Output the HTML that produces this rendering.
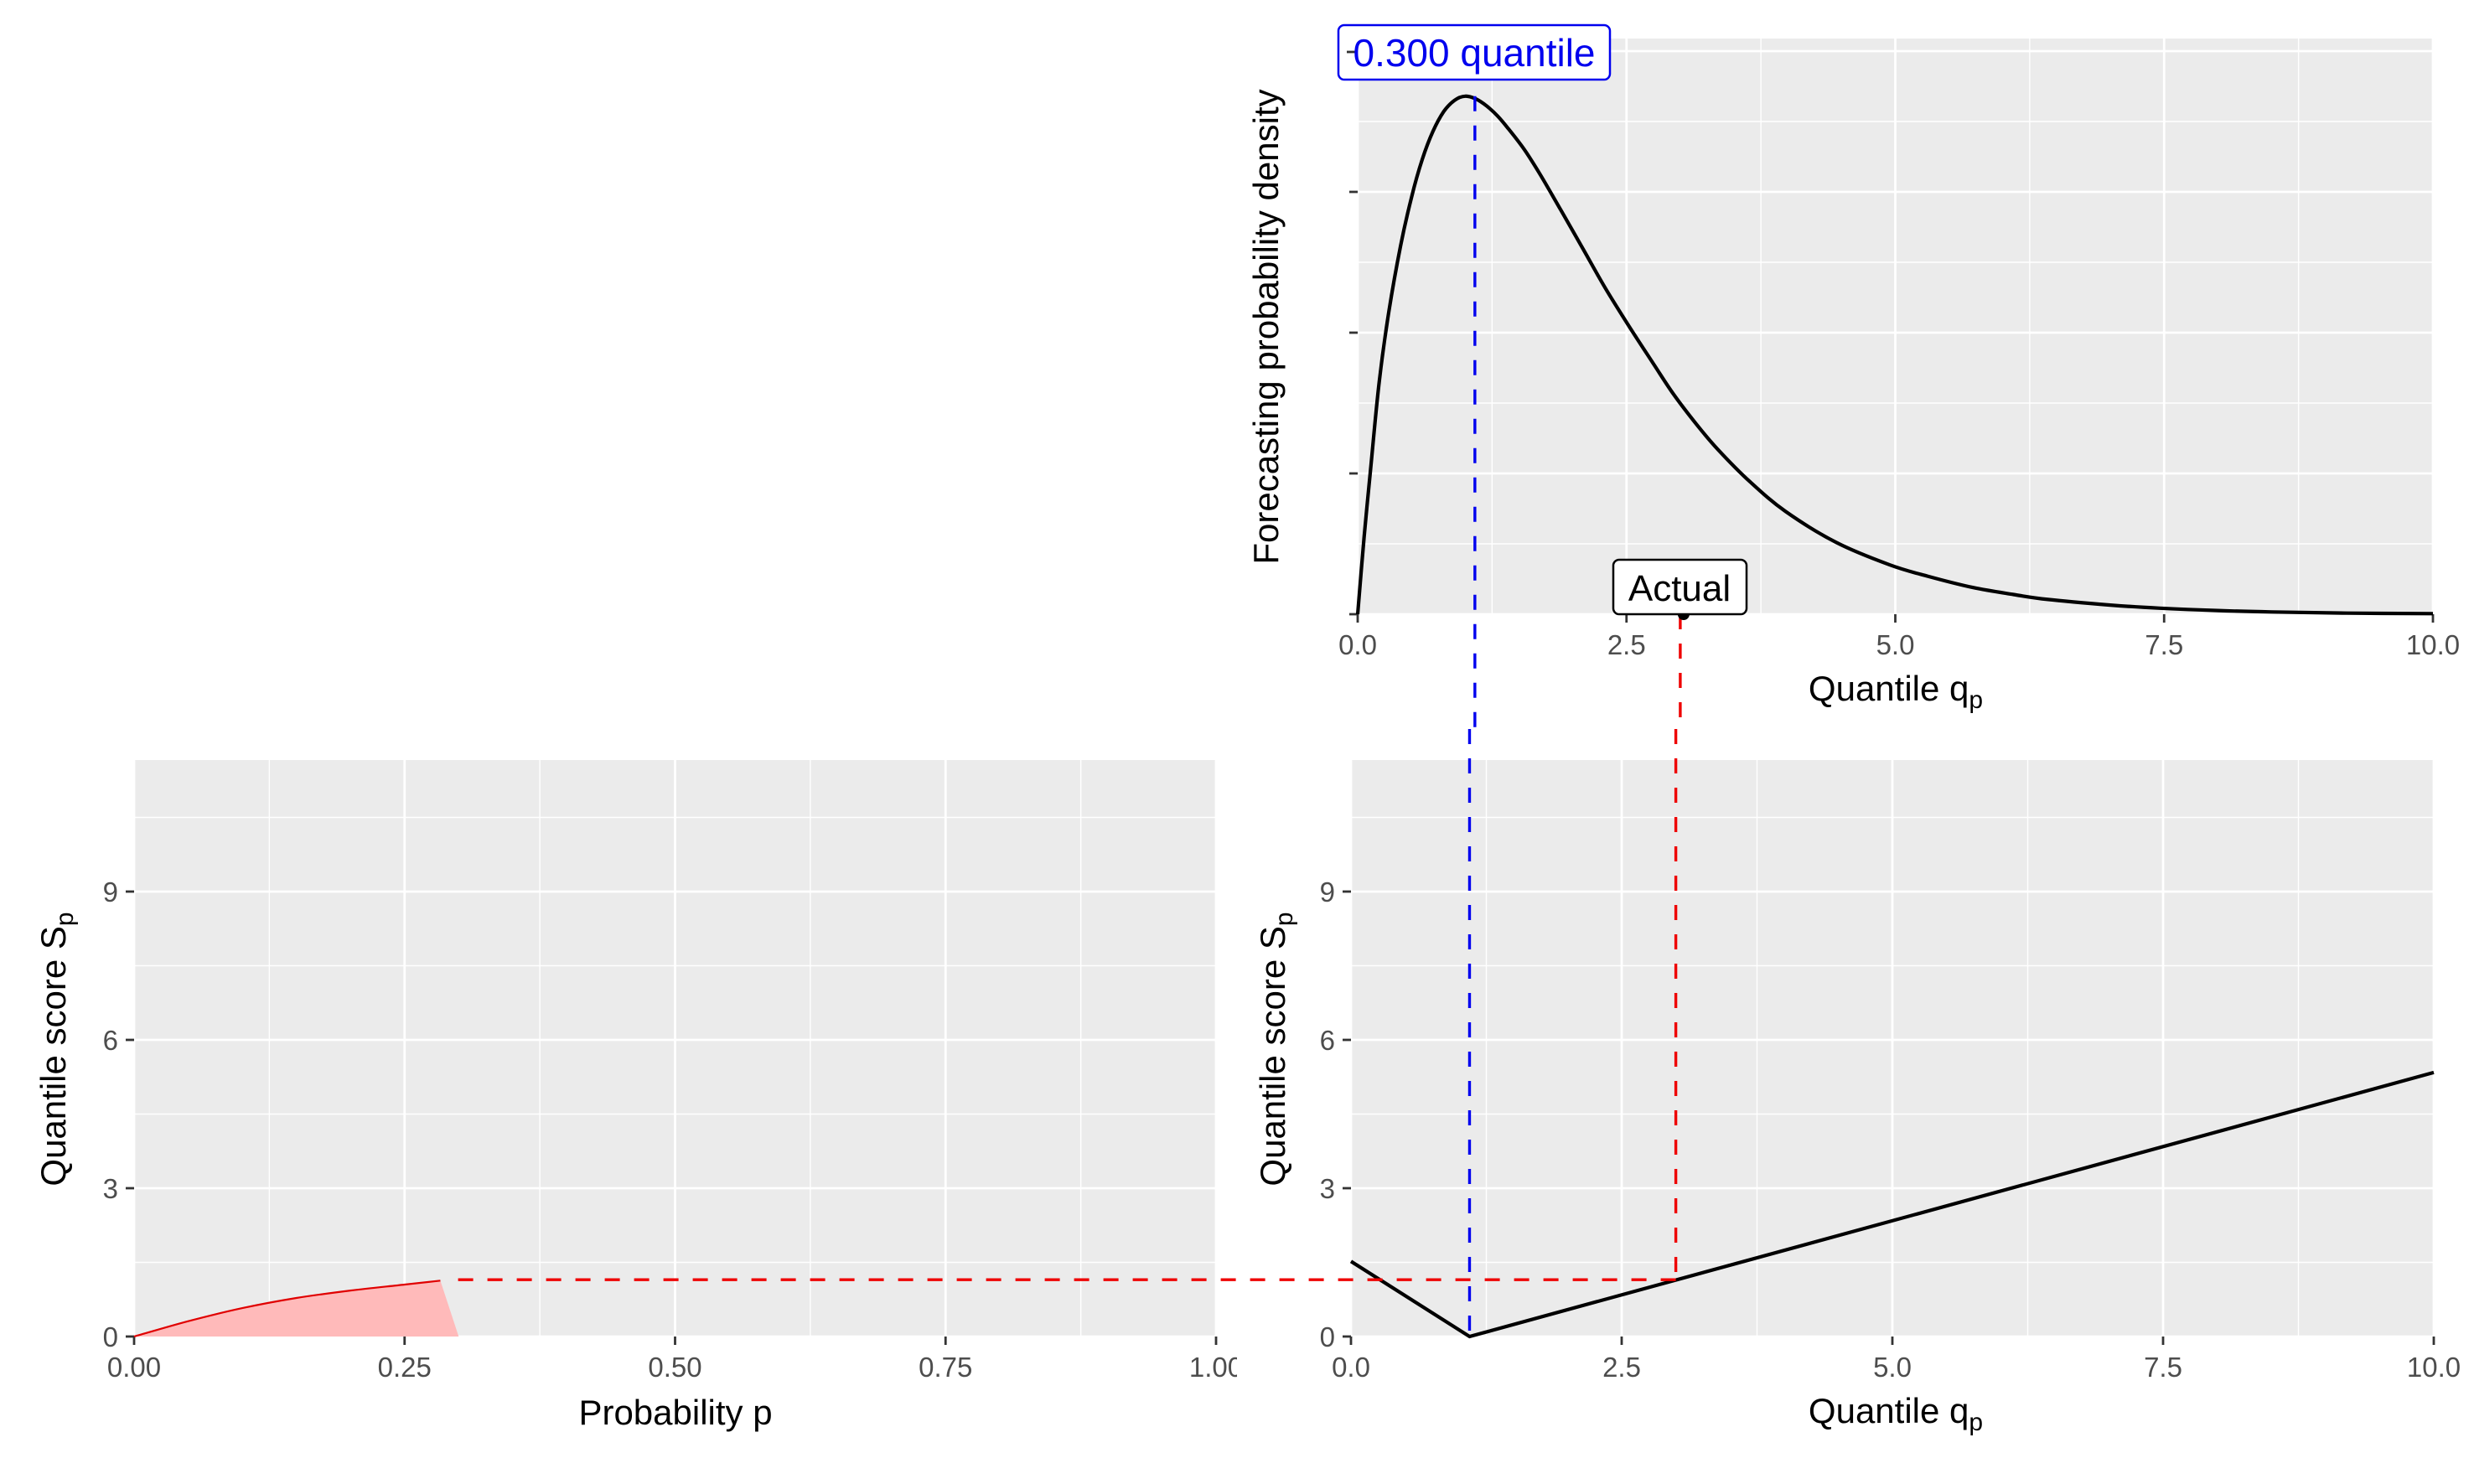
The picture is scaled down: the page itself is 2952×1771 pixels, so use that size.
<!DOCTYPE html>
<html><head><meta charset="utf-8"><title>Quantile score chart</title>
<style>html,body{margin:0;padding:0;background:#fff;}svg{display:block;font-family:"Liberation Sans",Arial,sans-serif;}</style></head>
<body>
<svg id="chart" width="2952" height="1771" viewBox="0 0 2952 1771" xmlns="http://www.w3.org/2000/svg">
<defs>
<clipPath id="clipL"><rect x="0" y="0" width="1476" height="1771"/></clipPath>
</defs>
</svg>
<script>
// ---- data ----
const densityQ = [0,0.06,0.12,0.2,0.29,0.4,0.5,0.6,0.7,0.8,0.9,1.0,1.1,1.2,1.3,1.4,1.55,1.7,1.89,2.1,2.3,2.52,2.75,2.94,3.15,3.35,3.65,3.98,4.45,4.95,5.3,5.72,6.1,6.42,7.0,7.46,8.0,8.5,9.2,10];
const densityV = [0,0.055,0.103,0.165,0.215,0.262,0.296,0.323,0.343,0.357,0.365,0.368,0.366,0.361,0.354,0.345,0.330,0.312,0.287,0.259,0.232,0.205,0.178,0.156,0.135,0.117,0.094,0.073,0.051,0.035,0.027,0.019,0.014,0.0105,0.0065,0.0043,0.0026,0.0016,0.0008,0.0004];
const scoreP = [0,0.05,0.1,0.15,0.2,0.25,0.283];
const scoreS = [0,0.31,0.575,0.78,0.93,1.05,1.13];
const fillEndP = 0.30;
const lossQ = [0,1.095,10];
const lossS = [1.52,0,5.34];
const quantileLevel = 0.300;
const quantileQ = 1.09;
const actualQ = 3.0;
const actualScore = 1.15;
const actualP = 0.283;
const densityTicks = [0,0.1,0.2,0.3,0.4];
const qTicks = [0,2.5,5,7.5,10];
const qTickLabels = ["0.0","2.5","5.0","7.5","10.0"];
const pTicks = [0,0.25,0.5,0.75,1];
const pTickLabels = ["0.00","0.25","0.50","0.75","1.00"];
const sTicks = [0,3,6,9];
const sTickLabels = ["0","3","6","9"];

const NS = "http://www.w3.org/2000/svg";
const svg = document.getElementById('chart');
function mk(tag, attrs, parent){const e=document.createElementNS(NS,tag);for(const k in attrs)e.setAttribute(k,attrs[k]);(parent||svg).appendChild(e);return e;}

// ---- scales ----
const T = {x0:1620,x1:2903,y0:733,y1:46, xmin:0,xmax:10, ymin:0, ymax:(733-46)/1680};
const L = {x0:160,x1:1451,y0:1595,y1:907, xmin:0,xmax:1, ymin:0, ymax:(1595-907)/59};
const R = {x0:1612,x1:2904,y0:1595,y1:907, xmin:0,xmax:10, ymin:0, ymax:(1595-907)/59};
function sx(p,v){return p.x0+(v-p.xmin)/(p.xmax-p.xmin)*(p.x1-p.x0);}
function sy(p,v){return p.y0-(v-p.ymin)/(p.ymax-p.ymin)*(p.y0-p.y1);}
function smoothPath(pts){
  let d='M'+pts[0][0].toFixed(1)+' '+pts[0][1].toFixed(1);
  for(let i=0;i<pts.length-1;i++){
    const p0=pts[Math.max(0,i-1)],p1=pts[i],p2=pts[i+1],p3=pts[Math.min(pts.length-1,i+2)];
    const c1x=p1[0]+(p2[0]-p0[0])/6,c1y=p1[1]+(p2[1]-p0[1])/6;
    const c2x=p2[0]-(p3[0]-p1[0])/6,c2y=p2[1]-(p3[1]-p1[1])/6;
    d+='C'+c1x.toFixed(1)+' '+c1y.toFixed(1)+' '+c2x.toFixed(1)+' '+c2y.toFixed(1)+' '+p2[0].toFixed(1)+' '+p2[1].toFixed(1);
  }
  return d;
}

function panel(p,name,xt,xl,yt,yl,showYLabels,clip){
  const g=mk('g',{});
  
  
  const bg=mk('rect',{x:p.x0,y:p.y1,width:p.x1-p.x0,height:p.y0-p.y1,fill:'#EBEBEB'},g);
  
  
  for(let i=0;i<xt.length-1;i++){const v=(xt[i]+xt[i+1])/2;const x=sx(p,v);
    const l=mk('line',{x1:x,x2:x,y1:p.y1,y2:p.y0,stroke:'#fff','stroke-width':1.4},g);
    
    }
  const ystep=yt[1]-yt[0];
  for(let v=yt[0]+ystep/2; v<p.ymax; v+=ystep){const y=sy(p,v);
    const l=mk('line',{x1:p.x0,x2:p.x1,y1:y,y2:y,stroke:'#fff','stroke-width':1.4},g);
    
    }
  xt.forEach(v=>{const x=sx(p,v);
    const l=mk('line',{x1:x,x2:x,y1:p.y1,y2:p.y0,stroke:'#fff','stroke-width':2.8},g);
    
    });
  for(let v=yt[0]; v<=p.ymax+1e-9; v+=ystep){const y=sy(p,v);
    const l=mk('line',{x1:p.x0,x2:p.x1,y1:y,y2:y,stroke:'#fff','stroke-width':2.8},g);
    
    }
  const lg=clip?mk('g',{'clip-path':'url(#clipL)'},g):g;
  xt.forEach((v,i)=>{const x=sx(p,v);
    const t=mk('line',{x1:x,x2:x,y1:p.y0,y2:p.y0+10,stroke:'#333','stroke-width':2.8},g);
    
    
    const tx=mk('text',{x:x,y:p.y0+48,'text-anchor':'middle','font-size':33,fill:'#4D4D4D'},lg);
    tx.textContent=xl[i];
    
    });
  yt.forEach((v,i)=>{if(v>p.ymax+1e-9)return;const y=sy(p,v);
    const t=mk('line',{x1:p.x0-10,x2:p.x0,y1:y,y2:y,stroke:'#333','stroke-width':2.8},g);
    
    
    if(showYLabels){const tx=mk('text',{x:p.x0-19,y:y+12,'text-anchor':'end','font-size':33,fill:'#4D4D4D'},g);
      tx.textContent=yl[i];
      
      }});
}
panel(T,'density-panel',qTicks,qTickLabels,densityTicks,null,false,false);
panel(L,'probability-score-panel',pTicks,pTickLabels,sTicks,sTickLabels,true,true);
panel(R,'quantile-score-panel',qTicks,qTickLabels,sTicks,sTickLabels,true,false);

function title(x,y,main,sub,rot,name){
  const t=mk('text',{x:x,y:y,'text-anchor':'middle','font-size':42,fill:'#000',transform:rot?`rotate(-90 ${x} ${y})`:''});
  
  
  t.appendChild(document.createTextNode(main));
  if(sub){const s=document.createElementNS(NS,'tspan');s.setAttribute('font-size',30);s.setAttribute('dy',9);s.textContent=sub;t.appendChild(s);}
}
title(2262,836,'Quantile q','p',false,'top-x-axis-title');
title(1525,390,'Forecasting probability density',null,true,'top-y-axis-title');
title(806,1700,'Probability p',null,false,'left-x-axis-title');
title(2262,1698,'Quantile q','p',false,'right-x-axis-title');
title(78,1252,'Quantile score S','p',true,'left-y-axis-title');
title(1533,1252,'Quantile score S','p',true,'right-y-axis-title');

// density curve
const dpts=densityQ.map((q,i)=>[sx(T,q),sy(T,densityV[i])]);
const dc=mk('path',{d:smoothPath(dpts),fill:'none',stroke:'#000','stroke-width':4.2,'stroke-linejoin':'round'});



// score area (left)
const spts=scoreP.map((p,i)=>[sx(L,p),sy(L,scoreS[i])]);
const sp=smoothPath(spts);
const ar=mk('path',{d:sp+'L'+sx(L,fillEndP).toFixed(1)+' '+sy(L,0)+'L'+sx(L,0)+' '+sy(L,0)+'Z',fill:'#FFBABA'});


const sline=mk('path',{d:sp,fill:'none',stroke:'#E00000','stroke-width':2.2});



// loss line (right)
let ll='';lossQ.forEach((q,i)=>{ll+=(i?'L':'M')+sx(R,q).toFixed(1)+' '+sy(R,lossS[i]).toFixed(1);});
const lline=mk('path',{d:ll,fill:'none',stroke:'#000','stroke-width':4.2});



// dashed guides
const dash='18 17';
const peakV=Math.max(...densityV);
const b1=mk('line',{x1:sx(T,quantileQ),x2:sx(T,quantileQ),y1:sy(T,peakV),y2:870,stroke:'#0000EE','stroke-width':3.4,'stroke-dasharray':dash});


const b2=mk('line',{x1:sx(R,lossQ[1]),x2:sx(R,lossQ[1]),y1:870,y2:sy(R,0),stroke:'#0000EE','stroke-width':3.4,'stroke-dasharray':dash});


const r1=mk('line',{x1:sx(T,actualQ),x2:sx(T,actualQ),y1:sy(T,0),y2:870,stroke:'#EE0000','stroke-width':3.4,'stroke-dasharray':dash});


const r2=mk('line',{x1:sx(R,actualQ),x2:sx(R,actualQ),y1:870,y2:sy(R,actualScore),stroke:'#EE0000','stroke-width':3.4,'stroke-dasharray':dash});


const r3=mk('line',{x1:sx(R,actualQ),x2:sx(L,actualP)+8,y1:sy(R,actualScore),y2:sy(L,actualScore),stroke:'#EE0000','stroke-width':3.4,'stroke-dasharray':dash});



// actual point & labels
const pt=mk('circle',{cx:sx(T,actualQ)+4,cy:sy(T,0),r:7,fill:'#000'});


const ab=mk('rect',{x:1925,y:668,width:159,height:65,rx:7,fill:'#fff',stroke:'#000','stroke-width':2.5});


const at=mk('text',{x:2004,y:717,'text-anchor':'middle','font-size':44,fill:'#000'});
at.textContent='Actual';


const qb=mk('rect',{x:1597,y:30,width:324,height:65,rx:7,fill:'#fff',stroke:'#0000EE','stroke-width':2.5});


const qtick=mk('line',{x1:1607,x2:1619,y1:62,y2:62,stroke:'#333','stroke-width':2.8});


const qt=mk('text',{x:1759,y:79,'text-anchor':'middle','font-size':46,fill:'#0000EE'});
qt.textContent=quantileLevel.toFixed(3)+' quantile';


</script>
</body></html>
